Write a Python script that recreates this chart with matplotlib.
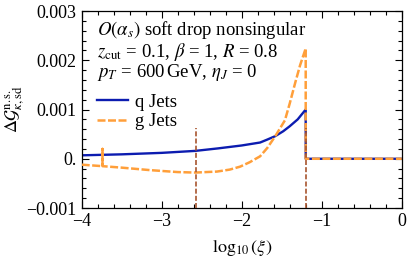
import numpy as np
import matplotlib
matplotlib.use("Agg")
from matplotlib import pyplot as plt
from matplotlib.ticker import MultipleLocator

plt.rcParams['font.family'] = ['Liberation Serif', 'DejaVu Serif']
plt.rcParams['mathtext.fontset'] = 'stix'

# q Jets
q_x = [-4.0, -3.5, -3.0, -2.58, -2.3, -2.0, -1.77, -1.68, -1.58, -1.48, -1.4, -1.3,
       -1.2, -1.2, 0.0]
q_y = [0.00007, 0.00009, 0.00012, 0.00016, 0.00021, 0.00027, 0.00033, 0.00039,
       0.00046, 0.00056, 0.00066, 0.00080, 0.00100, 0.0, 0.0]

# g Jets
g_x = [-4.0, -3.74, -3.74, -3.74, -3.5, -3.15, -2.8, -2.58, -2.31, -2.15, -2.02,
       -1.9, -1.77, -1.68, -1.58, -1.46, -1.4, -1.33, -1.27, -1.2, -1.2, 0.0]
g_y = [-0.00012, -0.00015, 0.00020, -0.00015, -0.00018, -0.00023, -0.00027, -0.00028,
       -0.00026, -0.00022, -0.00016, -0.00007, 0.00005, 0.00022, 0.00046, 0.00078,
       0.00112, 0.00155, 0.00190, 0.00224, 0.0, 0.0]

# vertical markers
v_x = [-2.57, -1.2]
v_top = 0.00063

xticks = [-4, -3, -2, -1, 0]
xlabels = ["\u22124", "\u22123", "\u22122", "\u22121", "0"]
yticks = [-0.001, 0.0, 0.001, 0.002, 0.003]
ylabels = ["\u22120.001", "0.", "0.001", "0.002", "0.003"]

blue = "#0c1cb0"
orange = "#ff9f3a"
brown = "#a8552f"

fig = plt.figure(figsize=(4.07, 2.62), dpi=100)
ax = fig.add_axes([0.2007, 0.206, 0.7863, 0.752])

ax.plot(q_x, q_y, color=blue, lw=1.7, label="q Jets", zorder=2)
ax.plot(g_x, g_y, color=orange, lw=1.8, dashes=(3.2, 1.0), label="g Jets", zorder=3)
ax.vlines(v_x, -0.001, v_top, colors=brown, linestyles=(0, (3, 1.3)), lw=1.2, zorder=4)

ax.set_xlim(-4, 0)
ax.set_ylim(-0.001, 0.003)
ax.set_xticks(xticks)
ax.set_xticklabels(xlabels)
ax.set_yticks(yticks)
ax.set_yticklabels(ylabels)
ax.xaxis.set_minor_locator(MultipleLocator(0.2))
ax.yaxis.set_minor_locator(MultipleLocator(0.0002))
ax.tick_params(which='both', direction='in', top=True, right=True, labelsize=13, width=0.8)
ax.tick_params(which='major', length=5)
ax.tick_params(which='minor', length=3)
for s in ax.spines.values():
    s.set_linewidth(0.9)

ax.set_xlabel(r"$\log_{10}(\xi)$", fontsize=13, labelpad=6)
ax.set_ylabel(r"$\Delta\mathcal{G}^{\rm n.s.}_{\kappa,{\rm sd}}$", fontsize=13, labelpad=0)

ax.text(0.048, 0.878, r"$O(\alpha_s)$ soft drop nonsingular", transform=ax.transAxes,
        fontsize=13.5, va='baseline')
ax.text(0.048, 0.766, r"$z_{\rm cut}$ = 0.1, $\beta$ = 1, $R$ = 0.8", transform=ax.transAxes,
        fontsize=13.5, va='baseline')
ax.text(0.048, 0.665, r"$p_T$ = 600$\,$GeV, $\eta_J$ = 0", transform=ax.transAxes,
        fontsize=13.5, va='baseline')

ax.legend(loc='center left', bbox_to_anchor=(0.048, 0.487), frameon=False, fontsize=13.5,
          handlelength=1.65, handletextpad=0.4, labelspacing=0.12, borderpad=0,
          borderaxespad=0)

fig.savefig("out.png", dpi=100)
